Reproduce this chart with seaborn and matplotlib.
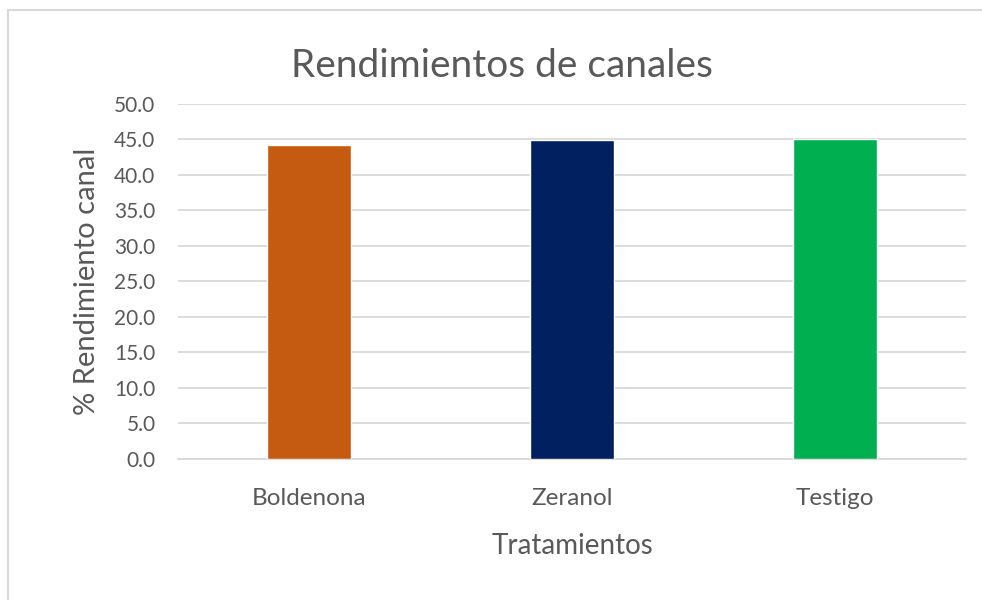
import matplotlib
matplotlib.use("Agg")
import matplotlib.pyplot as plt
import seaborn as sns
import pandas as pd
from matplotlib.patches import Rectangle

# datos
tratamientos = ["Boldenona", "Zeranol", "Testigo"]
rendimiento = [44.2, 44.9, 45.1]
colores = ["#C55A11", "#002060", "#00B050"]
yticks = [0, 5, 10, 15, 20, 25, 30, 35, 40, 45, 50]

df = pd.DataFrame({"Tratamiento": tratamientos, "Rendimiento": rendimiento})

sns.set_style("white")
plt.rcParams['font.family'] = ['Lato', 'DejaVu Sans']
gris = "#595959"

fig = plt.figure(figsize=(9.82, 6), dpi=100)
ax = fig.add_axes([0.181, 0.235, 0.803, 0.592])

sns.barplot(data=df, x="Tratamiento", y="Rendimiento", hue="Tratamiento",
            palette=colores, legend=False, width=0.32, saturation=1, ax=ax, zorder=3)

ax.set_ylim(0, 50)
ax.set_xlim(-0.5, 2.5)
ax.set_yticks(yticks)
ax.set_yticklabels([f"{v:.1f}" for v in yticks])
ax.yaxis.grid(True, color="#D9D9D9", linewidth=1.3, zorder=0)
ax.set_axisbelow(True)
for s in ["top", "right", "left"]:
    ax.spines[s].set_visible(False)
ax.spines["bottom"].set_color("#D9D9D9")
ax.spines["bottom"].set_linewidth(1.3)
ax.tick_params(axis="both", length=0, colors=gris)
ax.tick_params(axis="y", labelsize=15, pad=16)
ax.tick_params(axis="x", labelsize=17.5, pad=21)

# título centrado en la figura
fig.text(0.511, 0.872, "Rendimientos de canales", fontsize=28, color=gris,
         ha="center", va="baseline")
ax.set_ylabel("% Rendimiento canal", fontsize=21, color=gris, labelpad=10)
ax.set_xlabel("Tratamientos", fontsize=20, color=gris, labelpad=17)

# marco del gráfico
fig.patches.append(Rectangle((0.008, -0.1), 1.1, 1.083, transform=fig.transFigure,
                             fill=False, edgecolor="#D9D9D9", linewidth=1.5))

plt.savefig("out.png", dpi=100)
